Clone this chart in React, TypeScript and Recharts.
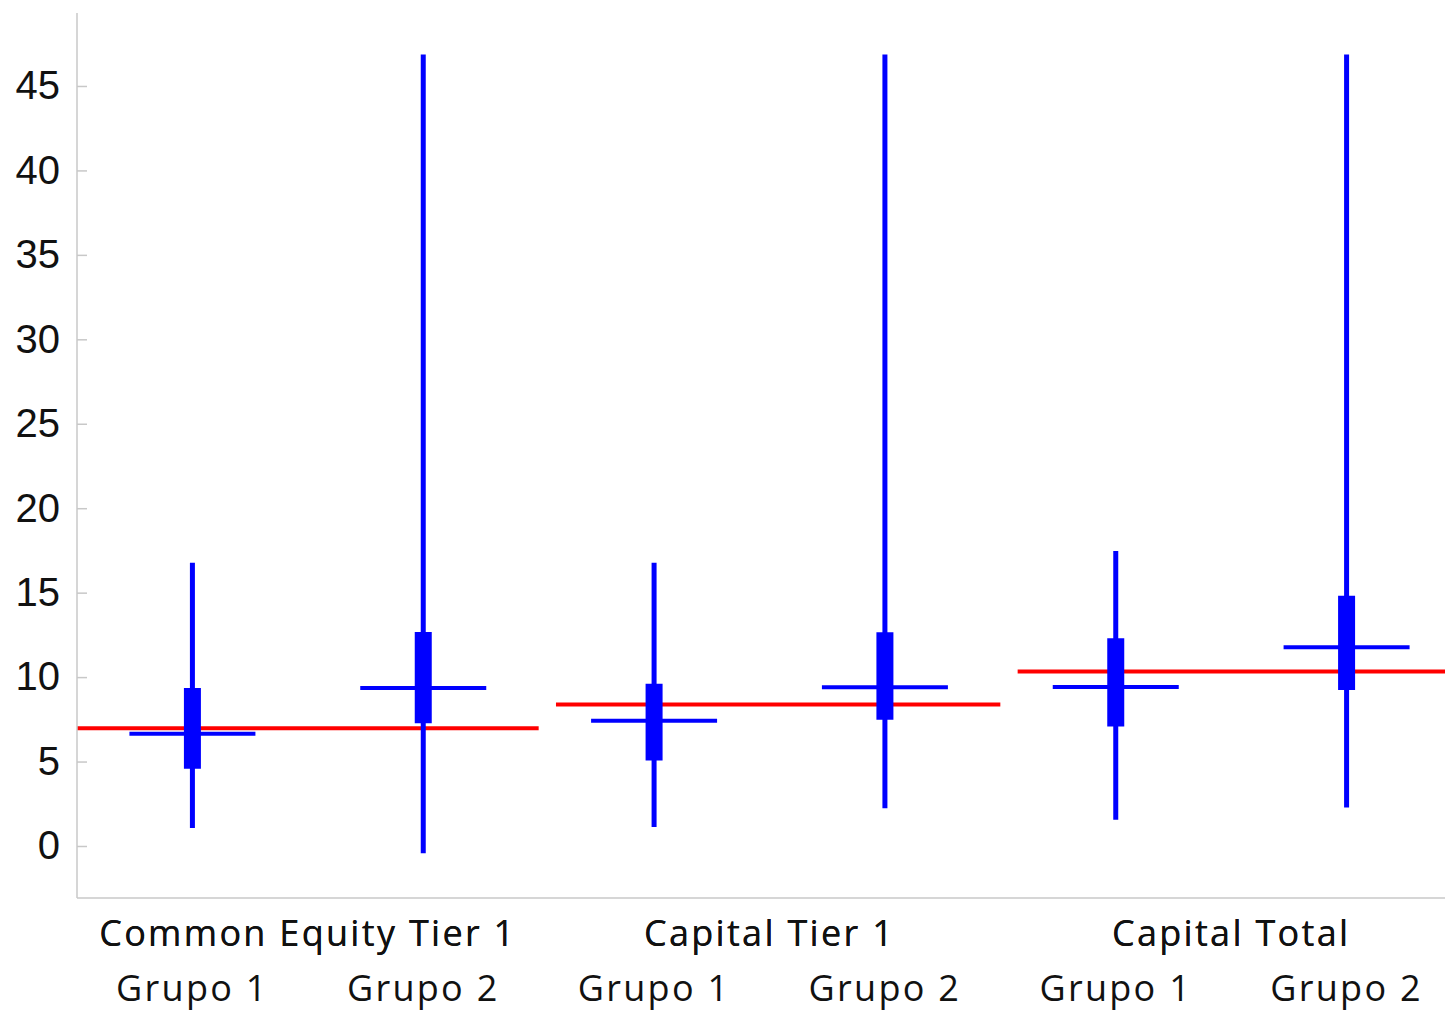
import React from "react";
import { ComposedChart, Scatter, ErrorBar, Line, XAxis, YAxis } from "recharts";

// Capital ratios (%) by group: whisker ends, box quartiles and centre line
const METRICS = ["Common Equity Tier 1", "Capital Tier 1", "Capital Total"];
const GROUPS = ["Grupo 1", "Grupo 2"];
const LOW = [1.09, -0.4, 1.15, 2.27, 1.58, 2.31];
const Q1 = [4.6, 7.3, 5.09, 7.5, 7.1, 9.27];
const MEDIAN = [6.67, 9.38, 7.44, 9.43, 9.45, 11.8];
const Q3 = [9.39, 12.7, 9.63, 12.69, 12.33, 14.85];
const HIGH = [16.8, 46.9, 16.8, 46.9, 17.5, 46.9];
// regulatory minimum per metric (red lines)
const MINIMUM = [7.0, 8.4, 10.36];
const Y_TICKS = [0, 5, 10, 15, 20, 25, 30, 35, 40, 45];

const rows = MEDIAN.map((m, i) => ({
  metric: METRICS[Math.floor(i / 2)],
  key: `${METRICS[Math.floor(i / 2)]}|${GROUPS[i % 2]}`,
  median: m,
  whisker: [m - LOW[i], HIGH[i] - m],
  box: [m - Q1[i], Q3[i] - m],
}));

const minimumSegments = MINIMUM.map((v, i) => [
  { pos: i * 2 + (i ? 0.075 : 0), value: v },
  { pos: i * 2 + 2, value: v },
]);

const BLUE = "#0000ff";
const RED = "#ff0000";
const GRID = "#c8c8c8";

const MedianMark = (props: any) => {
  const { cx, cy } = props;
  return <line x1={cx - 63} x2={cx + 63} y1={cy} y2={cy} stroke={BLUE} strokeWidth={4} />;
};

const YTick = ({ x, y, payload }: any) => (
  <g>
    <line x1={x + 17} x2={x + 27} y1={y} y2={y} stroke={GRID} strokeWidth={1.5} />
    <text x={x} y={y} dy="0.32em" textAnchor="end" fontSize={40} fontFamily="'Liberation Sans', Arial, sans-serif" fill="#111">
      {payload.value}
    </text>
  </g>
);

const XTick = ({ x, y, payload }: any) => {
  const label = String(payload.value).split("|").pop();
  return (
    <text x={x} y={y} dy="0.71em" textAnchor="middle" fontSize={36} letterSpacing={2.3} fontFamily="'Open Sans', sans-serif" fill="#111">
      {label}
    </text>
  );
};

export default function App() {
  return (
    <div style={{ position: "absolute", left: 0, top: 0, width: 1445, height: 1011, overflow: "hidden", background: "#fff" }}>
      <ComposedChart width={1462} height={1011} data={rows} margin={{ top: 13, right: 0, left: 0, bottom: 0 }}>
        <XAxis
          xAxisId="axis1-metric"
          dataKey="metric"
          type="category"
          scale="band"
          allowDuplicatedCategory={false}
          height={60}
          axisLine={{ stroke: GRID, strokeWidth: 1.5 }}
          tickLine={false}
          tickSize={0}
          tickMargin={22}
          tick={<XTick />}
          interval={0}
        />
        <XAxis
          xAxisId="axis2-grupo"
          dataKey="key"
          type="category"
          scale="band"
          height={53}
          axisLine={false}
          tickLine={false}
          tickSize={0}
          tickMargin={17}
          tick={<XTick />}
          interval={0}
        />
        <XAxis
          xAxisId="n"
          dataKey="pos"
          type="number"
          orientation="top"
          domain={[0, 6]}
          allowDataOverflow
          height={0}
          axisLine={{ stroke: GRID, strokeWidth: 1.5 }}
          tick={false}
          tickLine={false}
        />
        <YAxis
          type="number"
          domain={[-3.05, 49.35]}
          allowDataOverflow
          ticks={Y_TICKS}
          width={77}
          axisLine={{ stroke: GRID, strokeWidth: 1.5 }}
          tickLine={false}
          tickSize={0}
          tickMargin={17}
          tick={<YTick />}
          interval={0}
        />
        {minimumSegments.map((seg, i) => (
          <Line
            key={i}
            xAxisId="n"
            data={seg}
            dataKey="value"
            stroke={RED}
            strokeWidth={4}
            dot={false}
            activeDot={false}
            isAnimationActive={false}
          />
        ))}
        <Scatter xAxisId="axis2-grupo" dataKey="median" fill={BLUE} shape={<MedianMark />} isAnimationActive={false}>
          <ErrorBar dataKey="whisker" direction="y" width={0} stroke={BLUE} strokeWidth={5} />
          <ErrorBar dataKey="box" direction="y" width={0} stroke={BLUE} strokeWidth={17} />
        </Scatter>
      </ComposedChart>
    </div>
  );
}
